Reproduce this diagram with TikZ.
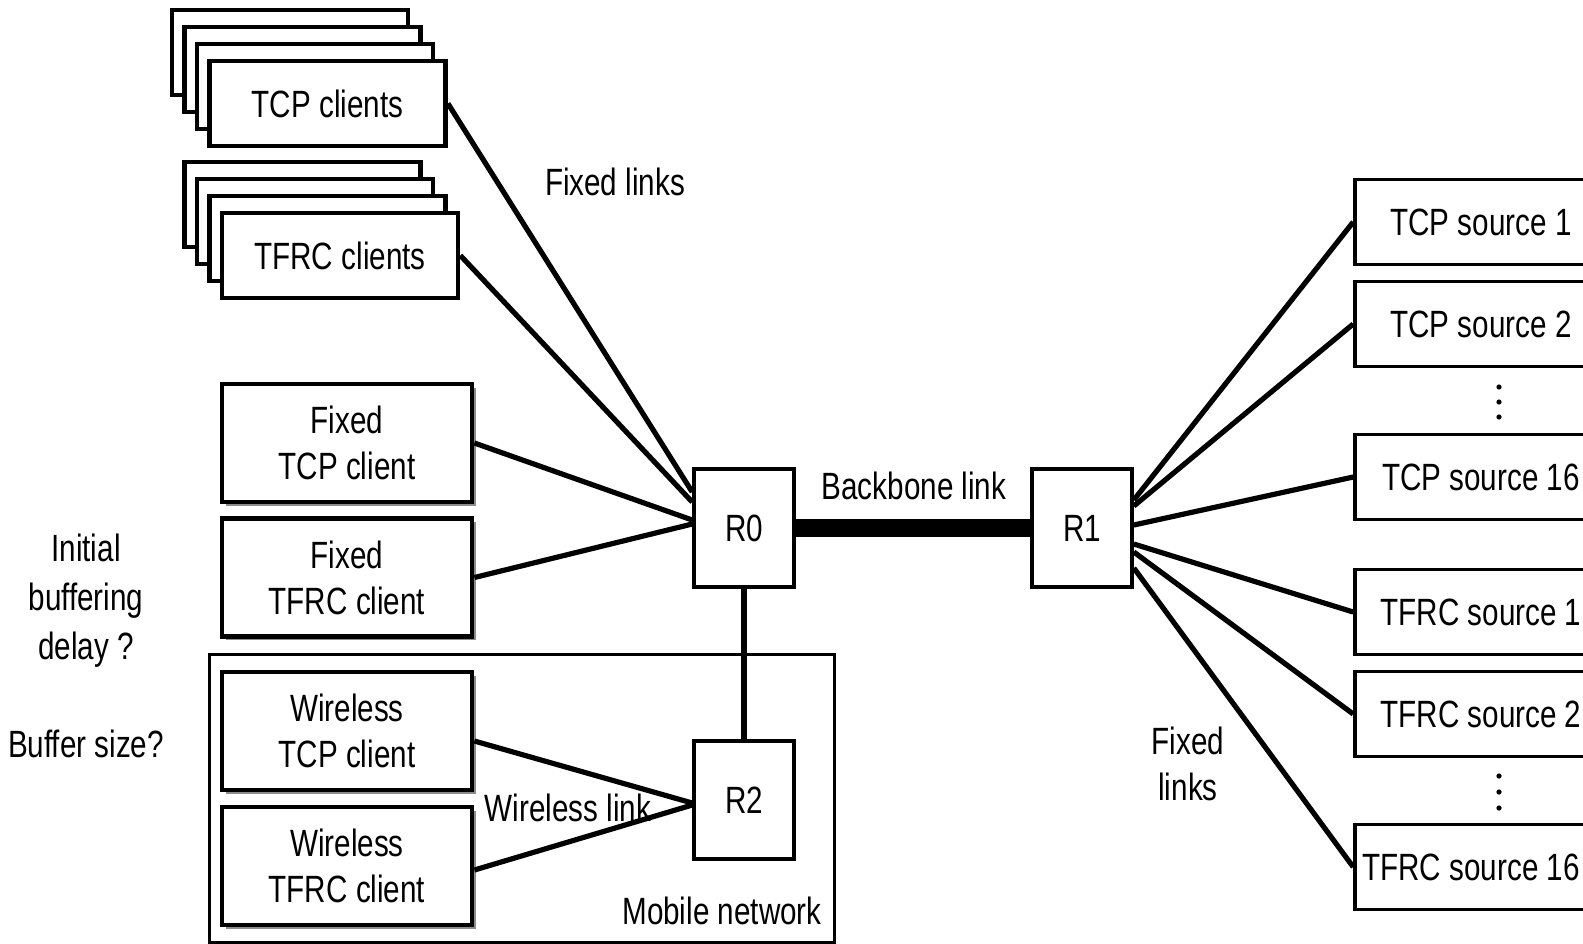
\documentclass[tikz,border=0pt]{standalone}
\usepackage{fontspec}
\setmainfont{Liberation Sans}[FakeStretch=0.78]
\usetikzlibrary{shadows}

\tikzset{
  every node/.style={font=\fontsize{19}{23}\selectfont, align=center},
  stackbox/.style={draw, fill=white, line width=2.4pt, inner sep=0pt,
    minimum width=118pt, minimum height=42.5pt},
  clientbox/.style={draw, fill=white, line width=2.4pt, inner sep=0pt,
    minimum width=125pt, minimum height=59pt,
    drop shadow={shadow xshift=1.8pt, shadow yshift=-1.8pt, fill=black!45, opacity=1}},
  router/.style={draw, fill=white, line width=1.8pt, inner sep=0pt,
    minimum width=50pt, minimum height=59pt},
  srcbox/.style={draw, fill=white, line width=1.8pt, inner sep=0pt,
    minimum width=126pt, minimum height=42.5pt},
  link/.style={line width=2.6pt},
  backbone/.style={line width=9pt}
}

\begin{document}
\begin{tikzpicture}[x=0.5pt,y=-0.5pt]
  \useasboundingbox (0,0) rectangle (1583,943);
  \clip (0,0) rectangle (1583,943);

  % stacked client groups
  \foreach \k in {3,2,1}{
    \node[stackbox] at ({327.5-12.5*\k},{103.5-17*\k}) {};
    \node[stackbox] at ({340-12.5*\k},{255.5-17*\k}) {};
  }
  \node[stackbox] (tcpc)  at (327.5,103.5) {TCP clients};
  \node[stackbox] (tfrcc) at (340,255.5)   {TFRC clients};

  % mobile network area
  \node[draw, line width=1.5pt, minimum width=312.5pt, minimum height=144pt] (mobnet) at (521.5,798) {};

  % single clients
  \node[clientbox] (ftcp)  at (347,443)   {Fixed\\TCP client};
  \node[clientbox] (ftfrc) at (347,577.5) {Fixed\\TFRC client};
  \node[clientbox] (wtcp)  at (347,731)   {Wireless\\TCP client};
  \node[clientbox] (wtfrc) at (347,866)   {Wireless\\TFRC client};

  % routers
  \node[router] (R0) at (744,528)  {R0};
  \node[router] (R1) at (1082,528) {R1};
  \node[router] (R2) at (744,800)  {R2};

  % sources
  \node[srcbox] (tcps1)   at (1481,222) {TCP source 1};
  \node[srcbox] (tcps2)   at (1481,324) {TCP source 2};
  \node[srcbox] (tcps16)  at (1481,477) {TCP source 16};
  \node[srcbox] (tfrcs1)  at (1481,612) {TFRC source 1};
  \node[srcbox] (tfrcs2)  at (1481,714) {TFRC source 2};
  \node[srcbox] (tfrcs16) at (1481,867) {\hspace*{-10pt}TFRC source 16};

  % dots between sources
  \foreach \y in {387,402,417,776,792,808}
    \fill (1499,\y) circle (1.3pt);

  % links
  \draw[link] (tcpc.east)  -- ([yshift=18pt]R0.west);
  \draw[link] (tfrcc.east) -- ([yshift=13pt]R0.west);
  \draw[link] (ftcp.east)  -- ([yshift=4pt]R0.west);
  \draw[link] (ftfrc.east) -- ([yshift=2pt]R0.west);
  \draw[link] (R0) -- (R2);
  \draw[backbone] (R0) -- (R1);
  \draw[link] ([yshift=14pt]R1.east)  -- (tcps1.west);
  \draw[link] ([yshift=11pt]R1.east)  -- (tcps2.west);
  \draw[link] ([yshift=1.5pt]R1.east) -- (tcps16.west);
  \draw[link] ([yshift=-8pt]R1.east)  -- (tfrcs1.west);
  \draw[link] ([yshift=-12pt]R1.east) -- (tfrcs2.west);
  \draw[link] ([yshift=-20pt]R1.east) -- (tfrcs16.west);
  \draw[link] ([yshift=-5pt]wtcp.east) -- ([yshift=-1.5pt]R2.west);
  \draw[link] ([yshift=-2pt]wtfrc.east) -- ([yshift=-2.5pt]R2.west);

  % labels
  \node (lblfixedl)   at (615,182)  {Fixed links};
  \node (lblbackbone) at (914,486)  {Backbone link};
  \node (lblfixedr)   at (1188,764) {Fixed\\links};
  \node (lblwireless) at (568,808)  {Wireless link};
  \node (lblmobile)   at (722,911)  {Mobile network};
  \node[font=\fontsize{19}{24.5}\selectfont] (lbldelay) at (86,601) {Initial\\buffering\\delay ?};
  \node (lblbuffer)   at (86,744)   {Buffer size?};
\end{tikzpicture}
\end{document}
